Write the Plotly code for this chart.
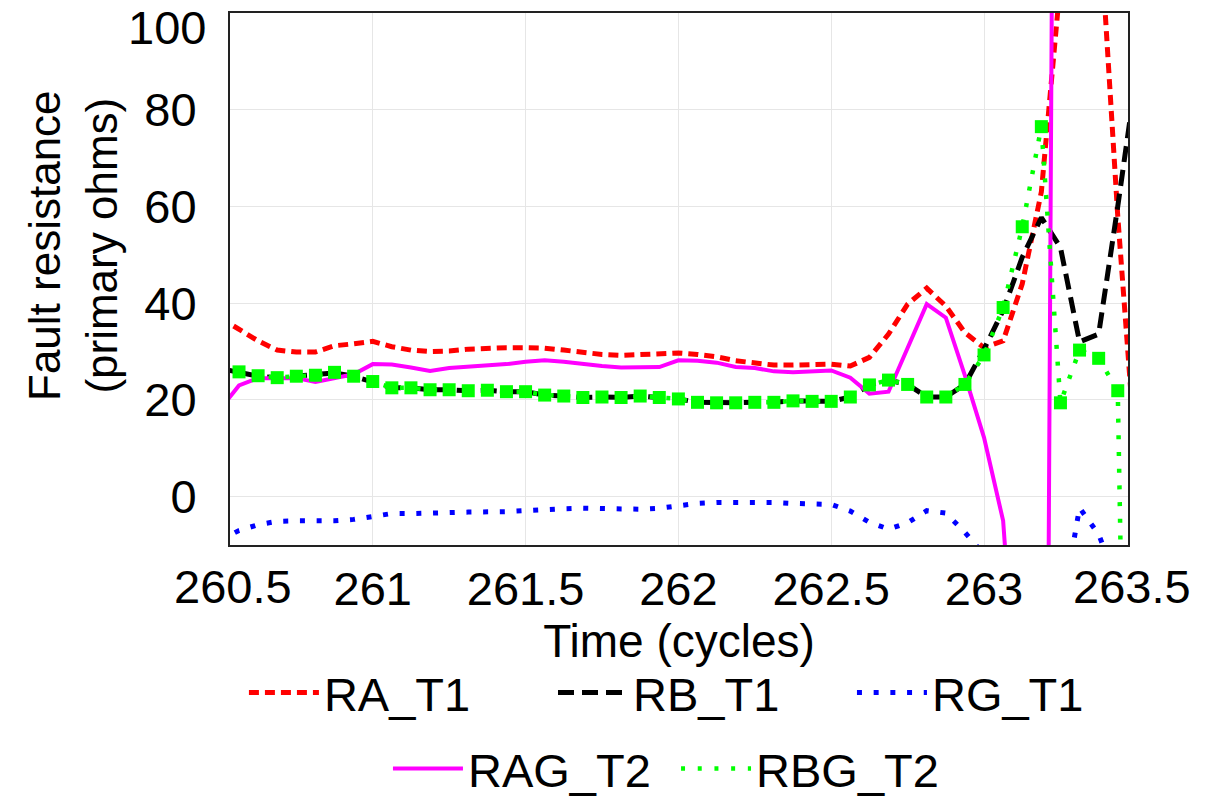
import plotly.graph_objects as go

# sample times: 1/16-cycle steps
t_start = 260.5
n_samples = 49
time_cycles = [t_start + k / 16 for k in range(n_samples)]

ra_t1 = [37.0, 34.6, 32.2, 30.3, 29.9, 29.9, 31.2, 31.6, 32.1, 31.0, 30.3, 30.0, 30.1,
         30.5, 30.7, 30.8, 30.8, 30.7, 30.3, 29.8, 29.4, 29.2, 29.3, 29.4, 29.7, 29.4,
         28.9, 28.1, 27.7, 27.2, 27.2, 27.4, 27.4, 27.0, 28.8, 33.6, 39.8, 43.1, 39.4,
         33.9, 30.8, 32.2, 44.0, 63.0, 115.0, 150.0, 122.0, 58.0, 5.0]

rb_t1 = [26.5, 25.6, 24.9, 24.6, 24.9, 25.1, 25.6, 24.9, 23.8, 22.5, 22.5, 22.1, 22.1,
         21.9, 22.0, 21.7, 21.7, 21.0, 20.8, 20.5, 20.6, 20.5, 20.8, 20.5, 20.2, 19.5,
         19.4, 19.4, 19.5, 19.5, 19.8, 19.7, 19.7, 20.6, 23.1, 24.1, 23.2, 20.6, 20.6,
         23.2, 30.5, 38.5, 49.5, 57.7, 51.5, 32.0, 33.6, 60.0, 88.0]

rg_t1 = [-9.0, -7.0, -5.8, -5.1, -5.0, -5.1, -5.0, -4.7, -4.0, -3.5, -3.5, -3.5, -3.3,
         -3.2, -3.2, -3.1, -2.9, -2.6, -2.5, -2.4, -2.5, -2.5, -2.6, -2.4, -1.9, -1.4,
         -1.2, -1.2, -1.0, -1.2, -1.4, -1.4, -1.6, -3.0, -5.3, -6.7, -5.4, -2.9, -3.4,
         -7.4, -12.0, -20.0, -30.0, -28.0, -25.0, -2.3, -7.8, -18.0, -25.0]

rag_t2 = [18.0, 23.0, 24.5, 24.5, 24.5, 23.7, 24.5, 25.3, 27.4, 27.3, 26.7, 26.0, 26.6,
          26.8, 27.0, 27.4, 27.9, 28.2, 27.9, 27.4, 27.0, 26.7, 26.7, 26.8, 28.2, 28.1,
          27.7, 26.8, 26.6, 25.9, 25.7, 25.8, 26.1, 24.6, 21.3, 21.7, 30.8, 39.8, 37.0,
          25.0, 12.2, -5.0, -60.0, -280.0, 420.0, None, None, None, None]

rbg_t2 = [27.0, 25.8, 25.0, 24.6, 24.9, 25.1, 25.7, 24.9, 23.8, 22.5, 22.5, 22.1, 22.1,
          21.9, 22.0, 21.7, 21.7, 21.0, 20.8, 20.5, 20.6, 20.5, 20.8, 20.5, 20.2, 19.5,
          19.4, 19.4, 19.5, 19.5, 19.8, 19.7, 19.7, 20.6, 23.1, 24.1, 23.2, 20.6, 20.6,
          23.2, 29.3, 39.1, 55.8, 76.5, 19.4, 30.3, 28.6, 21.9, -200.0]

x_tick_vals = [261, 261.5, 262, 262.5, 263]
x_tick_text = ["261", "261.5", "262", "262.5", "263"]
x_edge_labels = ["260.5", "263.5"]
y_tick_vals = [0, 20, 40, 60, 80]
y_top_label = "100"

FONT = "Liberation Sans, Arial, sans-serif"
TICK_SIZE = 47
TITLE_SIZE = 44
LEG_SIZE = 47

fig = go.Figure()

fig.add_trace(go.Scatter(x=time_cycles, y=ra_t1, name="RA_T1", mode="lines",
                         line=dict(color="#ff0000", width=5, dash="10px,6px"),
                         legend="legend"))
fig.add_trace(go.Scatter(x=time_cycles, y=rb_t1, name="RB_T1", mode="lines",
                         line=dict(color="#000000", width=5, dash="16px,8px"),
                         legend="legend2"))
fig.add_trace(go.Scatter(x=time_cycles, y=rg_t1, name="RG_T1", mode="lines",
                         line=dict(color="#0000ff", width=5, dash="5px,11.7px"),
                         legend="legend3"))
fig.add_trace(go.Scatter(x=time_cycles, y=rag_t2, name="RAG_T2", mode="lines",
                         line=dict(color="#ff00ff", width=4),
                         connectgaps=False, legend="legend4"))
fig.add_trace(go.Scatter(x=time_cycles, y=rbg_t2, name="RBG_T2", mode="lines",
                         line=dict(color="#00ff00", width=4.5, dash="4px,12.7px"),
                         legend="legend5", legendgroup="rbg"))
fig.add_trace(go.Scatter(x=time_cycles, y=rbg_t2, name="RBG_T2", mode="markers",
                         marker=dict(color="#00ff00", size=13, symbol="square"),
                         showlegend=False, legendgroup="rbg", legend="legend5"))


def leg(x, y):
    return dict(orientation="h", x=x, xanchor="left", y=y, yanchor="middle",
                font=dict(size=LEG_SIZE), itemwidth=70,
                bgcolor="rgba(0,0,0,0)", borderwidth=0)


fig.update_layout(
    width=1211, height=799,
    margin=dict(l=230, r=83, t=13, b=254, autoexpand=False),
    paper_bgcolor="white", plot_bgcolor="white",
    font=dict(family=FONT, color="black"),
    xaxis=dict(
        range=[260.533, 263.471],
        tickvals=x_tick_vals, ticktext=x_tick_text,
        tickfont=dict(size=TICK_SIZE), ticks="", ticklabelstandoff=2,
        showgrid=True, gridcolor="#e6e6e6", gridwidth=1,
        showline=True, linecolor="#222222", linewidth=2, mirror=True,
        zeroline=False,
        title=dict(text="Time (cycles)", font=dict(size=TITLE_SIZE + 2), standoff=0),
    ),
    yaxis=dict(
        range=[-10, 100],
        tickvals=y_tick_vals,
        tickfont=dict(size=TICK_SIZE), ticks="", ticklabelstandoff=22,
        showgrid=True, gridcolor="#e6e6e6", gridwidth=1,
        showline=True, linecolor="#222222", linewidth=2, mirror=True,
        zeroline=False,
    ),
    legend=leg(0.0155, -0.278),
    legend2=leg(0.3597, -0.278),
    legend3=leg(0.6926, -0.278),
    legend4=leg(0.1759, -0.4211),
    legend5=leg(0.4967, -0.4211),
    showlegend=True,
)

annotations = [
    dict(text=y_top_label, x=0, xref="paper", y=100, yref="y", xanchor="right",
         yanchor="top", xshift=-22, yshift=14, showarrow=False,
         font=dict(size=TICK_SIZE)),
    dict(text=x_edge_labels[0], x=0, xref="paper", y=0, yref="paper", xanchor="center",
         yanchor="top", xshift=3, yshift=-13, showarrow=False,
         font=dict(size=TICK_SIZE)),
    dict(text=x_edge_labels[1], x=1, xref="paper", y=0, yref="paper", xanchor="center",
         yanchor="top", xshift=4, yshift=-13, showarrow=False,
         font=dict(size=TICK_SIZE)),
    dict(text="Fault resistance<br>(primary ohms)", x=0, xref="paper", y=0.5,
         yref="paper", xanchor="center", yanchor="middle", xshift=-157, yshift=33,
         textangle=-90, showarrow=False, font=dict(size=TITLE_SIZE)),
]
fig.update_layout(annotations=annotations)

fig.write_html("out.html")
